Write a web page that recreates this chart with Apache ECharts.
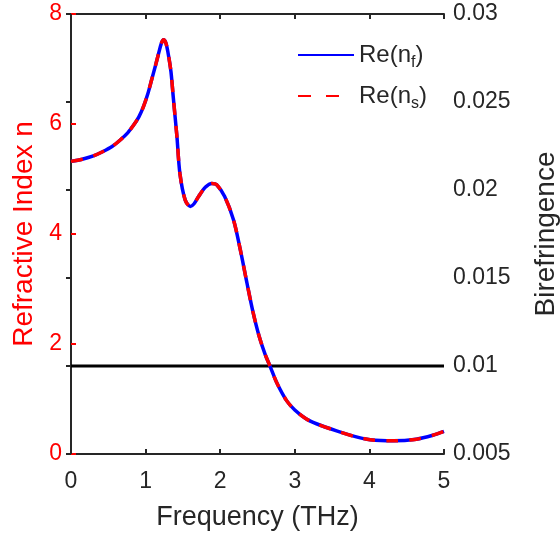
<!DOCTYPE html>
<html>
<head>
<meta charset="utf-8">
<script src="https://cdn.jsdelivr.net/npm/echarts@6/dist/echarts.min.js"></script>
<style>
html,body{margin:0;padding:0;background:#fff;}
#chart{width:560px;height:540px;}
</style>
</head>
<body>
<div id="chart"></div>
<script>
// Frequency (THz)
var freq = [0.00,0.15,0.30,0.43,0.55,0.66,0.76,0.84,0.91,0.97,1.03,1.08,1.13,1.17,1.21,1.24,1.27,1.30,1.34,1.37,1.42,1.46,1.53,1.60,1.65,1.71,1.80,1.89,1.95,2.06,2.18,2.27,2.36,2.44,2.52,2.60,2.67,2.76,2.89,3.00,3.15,3.29,3.56,3.80,4.01,4.32,4.63,4.85,5.00];
// Re(n_f)
var nfValues = [5.32,5.36,5.42,5.50,5.59,5.71,5.84,5.98,6.13,6.31,6.55,6.80,7.05,7.26,7.46,7.53,7.48,7.30,6.95,6.50,5.77,5.10,4.62,4.50,4.55,4.68,4.85,4.92,4.90,4.68,4.25,3.71,3.10,2.58,2.15,1.82,1.59,1.29,0.97,0.80,0.64,0.55,0.42,0.32,0.26,0.24,0.27,0.34,0.41];
// Re(n_s)
var nsValues = [5.32,5.36,5.42,5.50,5.59,5.71,5.84,5.98,6.13,6.31,6.55,6.80,7.05,7.26,7.46,7.53,7.48,7.30,6.95,6.50,5.77,5.10,4.62,4.50,4.55,4.68,4.85,4.92,4.90,4.68,4.25,3.71,3.10,2.58,2.15,1.82,1.59,1.29,0.97,0.80,0.64,0.55,0.42,0.32,0.26,0.24,0.27,0.34,0.41];
// Birefringence reference line
var biFreq = [0, 5];
var biValues = [0.01, 0.01];

var seriesNames = ['Re(n_f)', 'Re(n_s)'];
var legendRich = {'Re(n_f)': 'f', 'Re(n_s)': 's'};

function pairs(xs, ys){ return xs.map(function(x,i){ return [x, ys[i]]; }); }

var FONT = 'Liberation Sans';
var GRAY = '#262626';
var chart = echarts.init(document.getElementById('chart'));
var axisCommon = {
  type: 'value', min: 0, max: 5, interval: 1,
  axisLine: {show: true, lineStyle: {color: GRAY, width: 2}},
  axisTick: {show: true, inside: true, length: 5, lineStyle: {color: GRAY, width: 2}},
  splitLine: {show: false}
};
chart.setOption({
  animation: false,
  backgroundColor: '#fff',
  grid: {left: 71, right: 116, top: 14, bottom: 86, containLabel: false, outerBoundsMode: 'none'},
  legend: {
    data: [
      {name: seriesNames[0]},
      {name: seriesNames[1], lineStyle: {type: [13, 15]}}
    ],
    orient: 'vertical',
    left: 292, top: 30,
    itemWidth: 56, itemHeight: 14, itemGap: 5,
    itemStyle: {color: 'transparent', borderWidth: 0, opacity: 0},
    formatter: function(name){ return '{a|Re(n}{s|' + legendRich[name] + '}{a|)}'; },
    textStyle: {
      fontFamily: FONT, color: GRAY, fontSize: 24,
      rich: {
        a: {fontFamily: FONT, fontSize: 24, color: GRAY, lineHeight: 32},
        s: {fontFamily: FONT, fontSize: 16, color: GRAY, lineHeight: 32, verticalAlign: 'bottom', padding: [20,0,0,0]}
      }
    }
  },
  xAxis: [
    Object.assign({}, axisCommon, {
      position: 'bottom',
      axisLabel: {color: GRAY, fontSize: 23, fontFamily: FONT, margin: 16},
      name: 'Frequency (THz)', nameLocation: 'middle', nameGap: 50,
      nameTextStyle: {color: GRAY, fontSize: 27, fontFamily: FONT}
    }),
    Object.assign({}, axisCommon, {
      position: 'top',
      axisLabel: {show: false}
    })
  ],
  yAxis: [
    {
      type: 'value', min: 0, max: 8, interval: 2, position: 'left',
      axisLine: {show: true, lineStyle: {color: '#ff0000', width: 2}},
      axisTick: {show: true, inside: true, length: 5, lineStyle: {color: '#ff0000', width: 2}},
      axisLabel: {color: '#ff0000', fontSize: 23, fontFamily: FONT, margin: 9},
      splitLine: {show: false},
      name: 'Refractive Index n', nameLocation: 'middle', nameGap: 32, nameRotate: 90,
      nameTextStyle: {color: '#ff0000', fontSize: 28, fontFamily: FONT}
    },
    {
      type: 'value', min: 0.005, max: 0.03, interval: 0.005, position: 'right',
      axisLine: {show: true, lineStyle: {color: GRAY, width: 2}},
      axisTick: {show: true, inside: true, length: 5, lineStyle: {color: GRAY, width: 2}},
      axisLabel: {color: GRAY, fontSize: 23, fontFamily: FONT, margin: 9,
        formatter: function(v){ return String(parseFloat(v.toFixed(3))); }},
      splitLine: {show: false},
      name: 'Birefringence', nameLocation: 'middle', nameGap: 88, nameRotate: 90,
      nameTextStyle: {color: GRAY, fontSize: 28, fontFamily: FONT}
    }
  ],
  series: [
    {
      name: 'Birefringence', type: 'line', xAxisIndex: 0, yAxisIndex: 1,
      data: pairs(biFreq, biValues), symbol: 'none',
      lineStyle: {color: '#000', width: 3}, z: 2
    },
    {
      name: seriesNames[0], type: 'line', xAxisIndex: 0, yAxisIndex: 0,
      data: pairs(freq, nfValues), symbol: 'none', smooth: 0.3,
      color: '#0000ff',
      lineStyle: {color: '#0000ff', width: 3.5, type: 'solid'}, z: 3
    },
    {
      name: seriesNames[1], type: 'line', xAxisIndex: 0, yAxisIndex: 0,
      data: pairs(freq, nsValues), symbol: 'none', smooth: 0.3,
      color: '#ff0000',
      lineStyle: {color: '#ff0000', width: 3.5, type: [12, 11]}, z: 4
    }
  ]
});
</script>
</body>
</html>
